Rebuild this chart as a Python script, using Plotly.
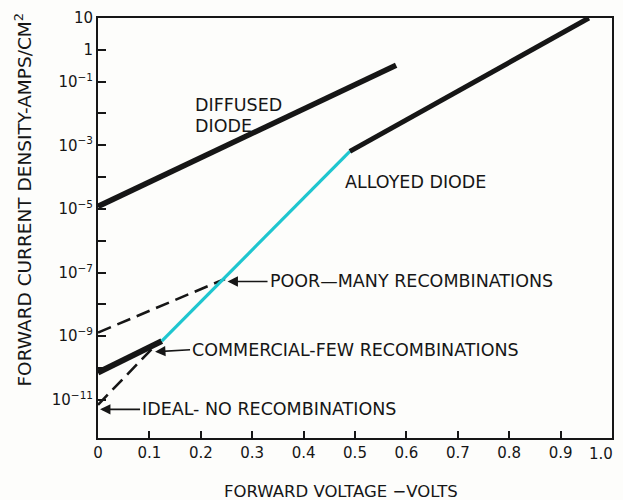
import plotly.graph_objects as go

# Forward characteristics of junction diodes (current density on a log scale)
diffused_v = [0.0, 0.58]
diffused_j = [1.2e-5, 0.33]

alloyed_v = [0.49, 0.955]
alloyed_j = [6.4e-4, 10.0]

transition_v = [0.124, 0.49]
transition_j = [7.0e-10, 6.4e-4]

commercial_v = [0.0, 0.124]
commercial_j = [7.2e-11, 7.0e-10]

ideal_v = [0.0, 0.105]
ideal_j = [7.0e-12, 4.0e-10]

poor_v = [0.0, 0.247]
poor_j = [1.3e-9, 6.3e-8]

x_ticks = [0.0, 0.1, 0.2, 0.3, 0.4, 0.5, 0.6, 0.7, 0.8, 0.9]
x_tick_text = ["0", "0.1", "0.2", "0.3", "0.4", "0.5", "0.6", "0.7", "0.8", "0.9"]

y_tick_exp = [1, 0, -1, -3, -5, -7, -9, -11]
y_tick_text = ["10", "1", "10<sup>−1</sup>", "10<sup>−3</sup>", "10<sup>−5</sup>",
               "10<sup>−7</sup>", "10<sup>−9</sup>", "10<sup>−11</sup>"]
y_minor_exp = [-2, -4, -6, -8, -10]

INK = "#161616"
CYAN = "#1fc6cf"
FONT = "DejaVu Sans"

fig = go.Figure()

def add_line(v, j, color, width, dash="solid"):
    fig.add_trace(go.Scatter(x=v, y=j, mode="lines",
                             line=dict(color=color, width=width, dash=dash),
                             hoverinfo="skip", showlegend=False))

add_line(poor_v, poor_j, INK, 2.6, "14px,7px")
add_line(ideal_v, ideal_j, INK, 2.6, "14px,7px")
add_line(diffused_v, diffused_j, INK, 5.5)
add_line(commercial_v, commercial_j, INK, 6)
add_line(transition_v, transition_j, CYAN, 3.2)
add_line(alloyed_v, alloyed_j, INK, 5)

text_font = dict(family=FONT, size=17.5, color=INK)
tick_font = dict(family=FONT, size=15, color=INK)

def label(x, y_exp, text):
    fig.add_annotation(x=x, y=y_exp, xref="x", yref="y", text=text, showarrow=False,
                       xanchor="left", yanchor="middle", align="left", font=text_font)

def pointer(x, y_exp, text_dx, text_dy, text):
    # text sits to the right; its arrow runs left to the point (x, y_exp)
    fig.add_annotation(x=x, y=y_exp, xref="x", yref="y", text=text, showarrow=True,
                       ax=text_dx, ay=text_dy, xanchor="left", yanchor="middle",
                       arrowhead=2, arrowsize=1.3, arrowwidth=1.6, arrowcolor=INK,
                       font=text_font)

label(0.184, -1.73, "DIFFUSED")
label(0.184, -2.38, "DIODE")
label(0.477, -4.16, "ALLOYED DIODE")

pointer(0.252, -7.28, 40, 0, "POOR—MANY RECOMBINATIONS")
pointer(0.111, -9.49, 35, -2, "COMMERCIAL-FEW RECOMBINATIONS")
pointer(0.004, -11.30, 40, 0, "IDEAL- NO RECOMBINATIONS")

# last x tick label, pulled in from the right edge
fig.add_annotation(x=1.0, y=0, xref="x", yref="paper", text="1.0", showarrow=False,
                   xanchor="center", yanchor="top", xshift=-11, yshift=-5, font=tick_font)

W, H = 623, 500
ML, MR, MT, MB = 98, 9, 14, 62
pw = W - ML - MR
ph = H - MT - MB

# Axis titles
fig.add_annotation(x=(342 - ML) / pw, y=(H - MB - 492) / ph, xref="paper", yref="paper",
                   text="FORWARD VOLTAGE −VOLTS", showarrow=False, yanchor="middle",
                   font=dict(family=FONT, size=16.5, color=INK))
fig.add_annotation(x=(23 - ML) / pw, y=(H - MB - 197) / ph, xref="paper", yref="paper",
                   text="FORWARD CURRENT DENSITY-AMPS/CM<sup>2</sup>", showarrow=False,
                   textangle=-90, xanchor="center", yanchor="middle",
                   font=dict(family=FONT, size=18.5, color=INK))

fig.update_xaxes(range=[0, 1.0], tickvals=x_ticks, ticktext=x_tick_text,
                 ticks="inside", ticklen=7, tickwidth=1.5, tickcolor=INK,
                 showline=True, linecolor=INK, linewidth=2, mirror=True,
                 showgrid=False, zeroline=False, tickfont=tick_font)
fig.update_yaxes(type="log", range=[-12.2, 1.0], tickvals=[10.0 ** e for e in y_tick_exp],
                 ticktext=y_tick_text,
                 ticks="inside", ticklen=8, tickwidth=1.5, tickcolor=INK,
                 minor=dict(tickmode="array", tickvals=[10.0 ** e for e in y_minor_exp],
                            ticks="inside", ticklen=8, tickwidth=1.5, tickcolor=INK,
                            showgrid=False),
                 showline=True, linecolor=INK, linewidth=2, mirror=True,
                 showgrid=False, zeroline=False, tickfont=tick_font)

fig.update_layout(width=W, height=H, margin=dict(l=ML, r=MR, t=MT, b=MB),
                  paper_bgcolor="#fdfdfb", plot_bgcolor="#fdfdfb", showlegend=False)

fig.write_html("out.html")
